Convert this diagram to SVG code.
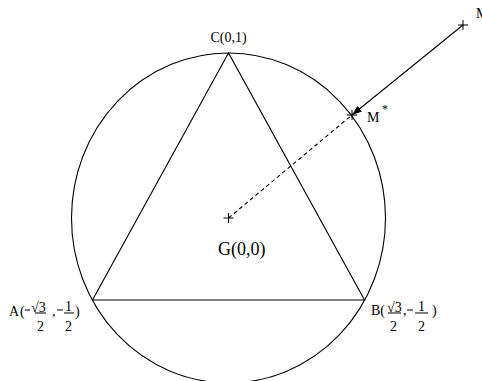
<svg xmlns="http://www.w3.org/2000/svg" width="482" height="381" viewBox="0 0 482 381">
<defs>
<style>
.ln{fill:none;stroke:#000;stroke-width:1.1}
.cr{fill:none;stroke:#000;stroke-width:1}
.t{font-family:"Liberation Serif","Times New Roman",serif;fill:#000}
.l{font-size:14px}
.s{font-size:14px}
.b{font-size:18px}
</style>
<marker id="ah" viewBox="0 0 10 10" refX="10" refY="5" markerWidth="10" markerHeight="10" markerUnits="userSpaceOnUse" orient="auto">
<path d="M0,1.5 L10,5 L0,8.5 Z" fill="#000"/>
</marker>
</defs>
<rect width="482" height="381" fill="#fff"/>
<g id="circle">
<ellipse class="ln" cx="228.5" cy="218" rx="157" ry="165"/>
</g>
<g id="triangle">
<polygon class="ln" points="228.5,53 92.5,300 364.5,300"/>
</g>
<g id="connectors">
<line class="ln" x1="228.5" y1="218" x2="352" y2="115" stroke-dasharray="4,3"/>
<line class="ln" x1="463" y1="25" x2="352" y2="115" marker-end="url(#ah)"/>
</g>
<g id="C">
<text class="t l" x="228.5" y="42" text-anchor="middle">C(0,1)</text>
</g>
<g id="G">
<path class="cr" d="M223.5,218H233.5M228.5,213V223"/>
<text class="t b" x="218" y="255">G(0,0)</text>
</g>
<g id="M">
<path class="cr" d="M458,25H468M463,20V30"/>
<text class="t l" x="476" y="18">M</text>
</g>
<g id="Mstar">
<path class="cr" d="M347,115H357M352,110V120"/>
<text class="t l" x="367" y="122">M</text>
<text class="t" font-size="12" x="382" y="113">*</text>
</g>
<g id="A">
<text class="t l" x="9" y="316">A</text>
<text class="t l" x="20" y="316">(</text>
<line class="cr" x1="25" y1="310" x2="30" y2="310"/>
<text class="t s" x="31" y="312">√3</text>
<line class="cr" x1="35" y1="313" x2="46" y2="313"/>
<text class="t s" x="37" y="331">2</text>
<text class="t l" x="52" y="316">,</text>
<line class="cr" x1="57" y1="310" x2="63" y2="310"/>
<text class="t s" x="65" y="311">1</text>
<line class="cr" x1="64" y1="313" x2="74" y2="313"/>
<text class="t s" x="65" y="331">2</text>
<text class="t l" x="75" y="316">)</text>
</g>
<g id="B">
<text class="t l" x="371" y="315">B(</text>
<text class="t s" x="387" y="312">√3</text>
<line class="cr" x1="388" y1="313" x2="401" y2="313"/>
<text class="t s" x="390" y="331">2</text>
<text class="t l" x="403" y="315">,</text>
<line class="cr" x1="407" y1="310" x2="413" y2="310"/>
<text class="t s" x="418" y="311">1</text>
<line class="cr" x1="415" y1="313" x2="428" y2="313"/>
<text class="t s" x="418" y="331">2</text>
<text class="t l" x="432" y="315">)</text>
</g>
</svg>
